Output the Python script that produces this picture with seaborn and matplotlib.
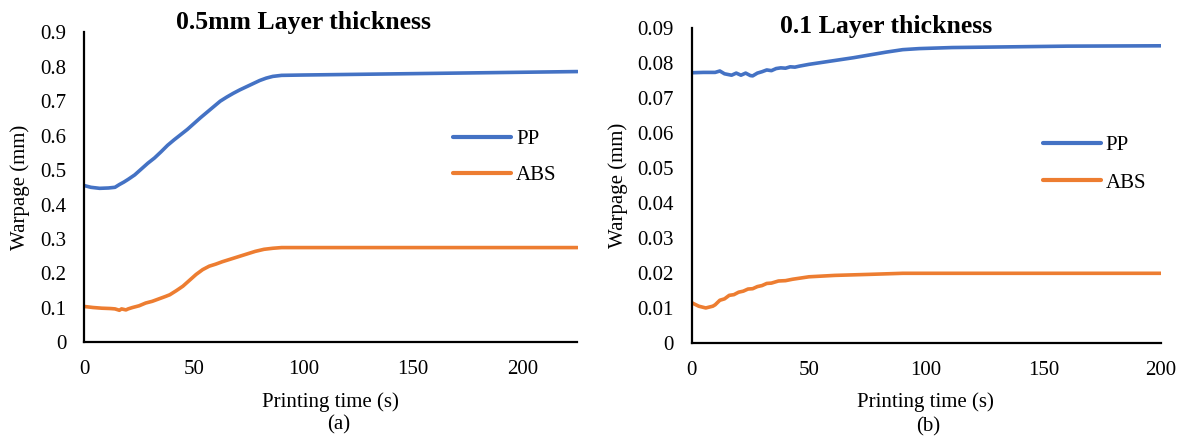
import matplotlib
matplotlib.use("Agg")
import matplotlib.pyplot as plt
import seaborn as sns
import pandas as pd

# ---- data ----
# (a) 0.5 mm layer thickness
t_pp_a = [0, 3, 7, 11, 14, 16, 18, 20, 23, 26, 29, 32, 35, 38, 41, 44, 47, 50, 53,
          56, 59, 62, 65, 68, 71, 74, 77, 80, 83, 86, 90, 100, 125, 150, 175, 200, 225]
pp_a = [0.455, 0.450, 0.447, 0.448, 0.450, 0.458, 0.465, 0.473, 0.486, 0.503, 0.520,
        0.535, 0.553, 0.572, 0.588, 0.603, 0.618, 0.635, 0.652, 0.668, 0.684, 0.700,
        0.712, 0.723, 0.733, 0.742, 0.751, 0.760, 0.767, 0.772, 0.775, 0.776, 0.778,
        0.780, 0.782, 0.784, 0.786]

t_abs_a = [0, 4, 8, 12, 14, 16, 17, 19, 20, 22, 25, 28, 31, 34, 37, 39, 42, 45, 48, 51,
           54, 57, 60, 63, 66, 70, 74, 78, 82, 86, 90, 100, 150, 225]
abs_a = [0.104, 0.101, 0.099, 0.098, 0.097, 0.093, 0.097, 0.094, 0.097, 0.101, 0.106,
         0.114, 0.119, 0.126, 0.133, 0.138, 0.150, 0.163, 0.180, 0.197, 0.211, 0.221,
         0.227, 0.234, 0.240, 0.248, 0.256, 0.264, 0.270, 0.273, 0.275, 0.275, 0.275,
         0.275]

# (b) 0.1 layer thickness
t_pp_b = [0, 5, 10, 12, 14, 17, 19, 21, 23, 25, 26, 28, 30, 32, 34, 36, 38, 40, 42,
          44, 46, 50, 55, 62, 69, 76, 83, 90, 97, 111, 160, 200]
pp_b = [0.0773, 0.0774, 0.0774, 0.0778, 0.0770, 0.0766, 0.0772, 0.0766, 0.0772,
        0.0765, 0.0764, 0.0772, 0.0776, 0.0781, 0.0779, 0.0785, 0.0787, 0.0786,
        0.0790, 0.0789, 0.0792, 0.0797, 0.0802, 0.0809, 0.0816, 0.0824, 0.0832,
        0.0839, 0.0842, 0.0845, 0.0849, 0.0850]

t_abs_b = [0, 3, 6, 9, 10, 12, 14, 16, 18, 20, 22, 24, 26, 28, 30, 32, 34, 37, 40, 43,
           50, 61, 76, 90, 150, 200]
abs_b = [0.0116, 0.0106, 0.0101, 0.0106, 0.0110, 0.0123, 0.0127, 0.0137, 0.0139,
         0.0146, 0.0149, 0.0155, 0.0156, 0.0162, 0.0165, 0.0171, 0.0172, 0.0178,
         0.0179, 0.0183, 0.0190, 0.0194, 0.0197, 0.0200, 0.0200, 0.0200]

xticks_a = [0, 50, 100, 150, 200]
yticks_a = [0, 0.1, 0.2, 0.3, 0.4, 0.5, 0.6, 0.7, 0.8, 0.9]
xticks_b = [0, 50, 100, 150, 200]
yticks_b = [0, 0.01, 0.02, 0.03, 0.04, 0.05, 0.06, 0.07, 0.08, 0.09]

palette = {"PP": "#4472C4", "ABS": "#ED7D31"}

sns.set_style("white")
plt.rcParams['font.family'] = ['Liberation Serif', 'DejaVu Serif']
plt.rcParams['font.size'] = 14
for k in ["text.color", "axes.labelcolor", "xtick.color", "ytick.color"]:
    plt.rcParams[k] = "black"


def long_df(t_pp, pp, t_abs, ab):
    d1 = pd.DataFrame({"t": t_pp, "w": pp, "mat": "PP"})
    d2 = pd.DataFrame({"t": t_abs, "w": ab, "mat": "ABS"})
    return pd.concat([d1, d2], ignore_index=True)


W, H = 1184, 438
fig = plt.figure(figsize=(W / 100, H / 100), dpi=100)
ax1 = fig.add_axes([84.3 / W, 1 - 342.3 / H, (577.5 - 84.3) / W, (342.3 - 32.3) / H])
ax2 = fig.add_axes([691.7 / W, 1 - 343.3 / H, (1160.7 - 691.7) / W, (343.3 - 28.3) / H])

panels = [
    (ax1, long_df(t_pp_a, pp_a, t_abs_a, abs_a), (0, 225), (0, 0.9), xticks_a, yticks_a,
     (0.7476, 0.597), 0.8),
    (ax2, long_df(t_pp_b, pp_b, t_abs_b, abs_b), (0, 200), (0, 0.09), xticks_b, yticks_b,
     (0.7484, 0.5686), 0.85),
]

for ax, df, xl, yl, xt, yt, leg_pos, lsp in panels:
    sns.lineplot(data=df, x="t", y="w", hue="mat", palette=palette, linewidth=2.6,
                 ax=ax, sort=False, estimator=None)
    ax.set_xlim(*xl)
    ax.set_ylim(*yl)
    ax.set_xticks(xt)
    ax.set_yticks(yt)
    ax.set_yticklabels([f"{v:g}" for v in yt])
    ax.tick_params(direction="in", length=5, width=1.2, labelsize=15, colors="black")
    ax.tick_params(axis="y", pad=13)
    ax.tick_params(axis="x", pad=12.5)
    ax.spines["top"].set_visible(False)
    ax.spines["right"].set_visible(False)
    for s in ["left", "bottom"]:
        ax.spines[s].set_color("black")
        ax.spines[s].set_linewidth(1.6)
    ax.set_xlabel("")
    ax.set_ylabel("")
    leg = ax.legend(title=None, frameon=False, loc="center left", bbox_to_anchor=leg_pos,
                    handlelength=2.78, labelspacing=lsp, handletextpad=0.25,
                    borderaxespad=0, borderpad=0, fontsize=15)
    for line in leg.get_lines():
        line.set_linewidth(3.0)

# titles, axis labels and panel tags
fig.text(303.3 / W, 1 - 29.3 / H, "0.5mm Layer thickness", ha="center", va="baseline",
         fontsize=18.5, fontweight="bold")
fig.text(886 / W, 1 - 33.3 / H, "0.1 Layer thickness", ha="center", va="baseline",
         fontsize=18.5, fontweight="bold")
fig.text(330.5 / W, 1 - 407.5 / H, "Printing time (s)", ha="center", va="baseline", fontsize=15)
fig.text(925.7 / W, 1 - 407.5 / H, "Printing time (s)", ha="center", va="baseline", fontsize=15)
fig.text(338.3 / W, 1 - 429 / H, "(a)", ha="center", va="baseline", fontsize=15)
fig.text(928 / W, 1 - 431.5 / H, "(b)", ha="center", va="baseline", fontsize=15)
fig.text(20 / W, 1 - 187.3 / H, "Warpage (mm)", ha="center", va="center", rotation=90, fontsize=15)
fig.text(617.7 / W, 1 - 185.8 / H, "Warpage (mm)", ha="center", va="center", rotation=90, fontsize=15)

fig.savefig("out.png", dpi=100)
